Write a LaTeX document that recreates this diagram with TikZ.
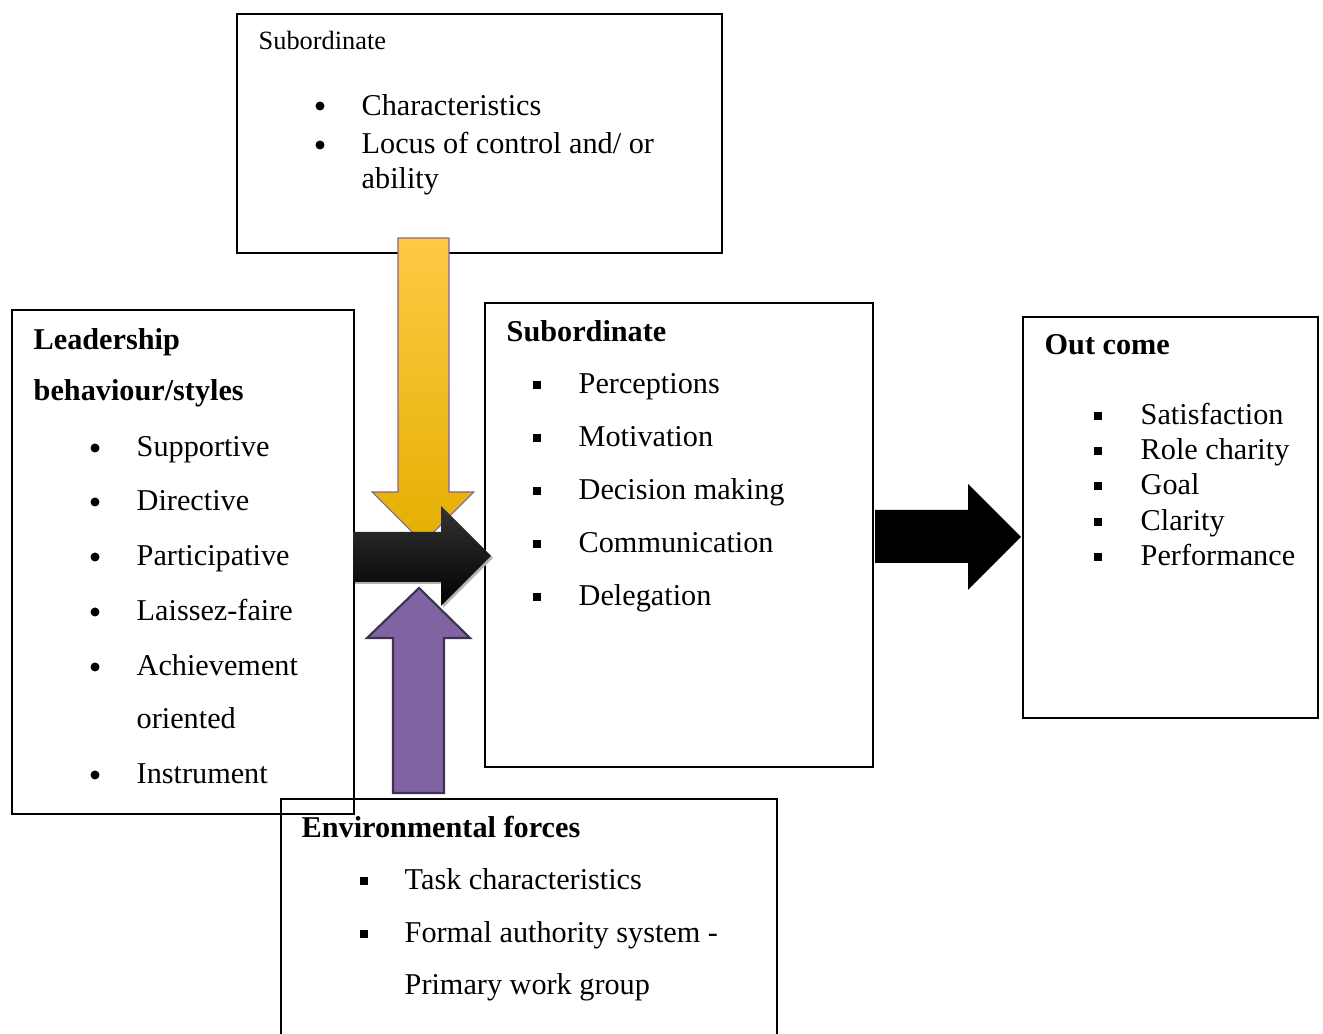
\documentclass[tikz,border=0pt]{standalone}
\usepackage{fontspec}
\setmainfont{Liberation Serif}
\definecolor{jauneclair}{RGB}{255,201,70}
\definecolor{jaune}{RGB}{255,192,0}
\definecolor{jaunefonce}{RGB}{228,176,0}
\definecolor{violet}{RGB}{128,100,162}
\definecolor{violetfonce}{RGB}{63,49,81}
\tikzset{
  boite/.style={draw,line width=0.6pt,inner sep=0pt,outer sep=0pt,anchor=north west},
  ligne/.style={anchor=west,inner sep=0pt,text height=0.7em,text depth=0.22em},
  titre/.style={ligne,font=\fontsize{8.6}{10}\selectfont\bfseries},
}
\begin{document}
\begin{tikzpicture}[x=0.01cm,y=-0.01cm,font=\fontsize{8.6}{10}\selectfont]
\useasboundingbox (0,0) rectangle (1323,1034);
% Boites
\node[boite,minimum width=4.85cm,minimum height=2.39cm] (haut) at (237,14) {};
\node[boite,minimum width=3.42cm,minimum height=5.04cm] (gauche) at (12,310) {};
\node[boite,minimum width=3.88cm,minimum height=4.64cm] (milieu) at (485,303) {};
\node[boite,minimum width=2.95cm,minimum height=4.01cm] (droite) at (1023,317) {};
\node[boite,minimum width=4.96cm,minimum height=3cm] (bas) at (281,799) {};
% Subordinate (haut)
\node[ligne,font=\fontsize{7.5}{9}\selectfont] (h0) at (258,41) {Subordinate};
\fill (320,106) circle (4.5);
\fill (320,145) circle (4.5);
\node[ligne] (h1) at (361,107) {Characteristics};
\node[ligne] (h2) at (361,145) {Locus of control and/ or};
\node[ligne] (h3) at (361,180) {ability};
% Leadership
\node[titre] (g0) at (33,341) {Leadership};
\node[titre] (g00) at (33,392) {behaviour/styles};
\fill (95,448) circle (4.5);
\fill (95,502) circle (4.5);
\fill (95,557) circle (4.5);
\fill (95,612) circle (4.5);
\fill (95,667) circle (4.5);
\fill (95,775) circle (4.5);
\node[ligne] (g1) at (136,448) {Supportive};
\node[ligne] (g2) at (136,502) {Directive};
\node[ligne] (g3) at (136,557) {Participative};
\node[ligne] (g4) at (136,612) {Laissez-faire};
\node[ligne] (g5) at (136,667) {Achievement};
\node[ligne] (g6) at (136,720) {oriented};
\node[ligne] (g7) at (136,775) {Instrument};
% Subordinate (milieu)
\node[titre] (m0) at (506,333) {Subordinate};
\fill (533,381) rectangle (541,389);
\fill (533,434) rectangle (541,442);
\fill (533,487) rectangle (541,495);
\fill (533,540) rectangle (541,548);
\fill (533,593) rectangle (541,601);
\node[ligne] (m1) at (578,385) {Perceptions};
\node[ligne] (m2) at (578,438) {Motivation};
\node[ligne] (m3) at (578,491) {Decision making};
\node[ligne] (m4) at (578,544) {Communication};
\node[ligne] (m5) at (578,597) {Delegation};
% Out come
\node[titre] (d0) at (1044,346) {Out come};
\fill (1094,412) rectangle (1102,420);
\fill (1094,447) rectangle (1102,455);
\fill (1094,482) rectangle (1102,490);
\fill (1094,518) rectangle (1102,526);
\fill (1094,553) rectangle (1102,561);
\node[ligne] (d1) at (1140,416) {Satisfaction};
\node[ligne] (d2) at (1140,451) {Role charity};
\node[ligne] (d3) at (1140,486) {Goal};
\node[ligne] (d4) at (1140,522) {Clarity};
\node[ligne] (d5) at (1140,557) {Performance};
% Environmental forces
\node[titre] (b0) at (301,829) {Environmental forces};
\fill (360,877) rectangle (368,885);
\fill (360,930) rectangle (368,938);
\node[ligne] (b1) at (404,881) {Task characteristics};
\node[ligne] (b2) at (404,934) {Formal authority system -};
\node[ligne] (b3) at (404,986) {Primary work group};
% Fleches
\shade[top color=jauneclair,middle color=jaune,bottom color=jaunefonce,draw=violet,line width=0.3pt]
  (398,238) -- (449,238) -- (449,492) -- (474,492) -- (423,543) -- (372,492) -- (398,492) -- cycle;
\filldraw[fill=violet,draw=violetfonce,line width=0.6pt]
  (393,793) -- (444,793) -- (444,638) -- (470,638) -- (419,588) -- (367,638) -- (393,638) -- cycle;
\fill[gray!60] (355,534) -- (443,534) -- (443,508) -- (493,558) -- (443,608) -- (443,584) -- (355,584) -- cycle;
\shade[top color=black!80,middle color=black,bottom color=black]
  (353,532) -- (441,532) -- (441,506) -- (491,556) -- (441,606) -- (441,582) -- (353,582) -- cycle;
\fill (875,510) -- (968,510) -- (968,484) -- (1021,537) -- (968,590) -- (968,563) -- (875,563) -- cycle;
\end{tikzpicture}
\end{document}
